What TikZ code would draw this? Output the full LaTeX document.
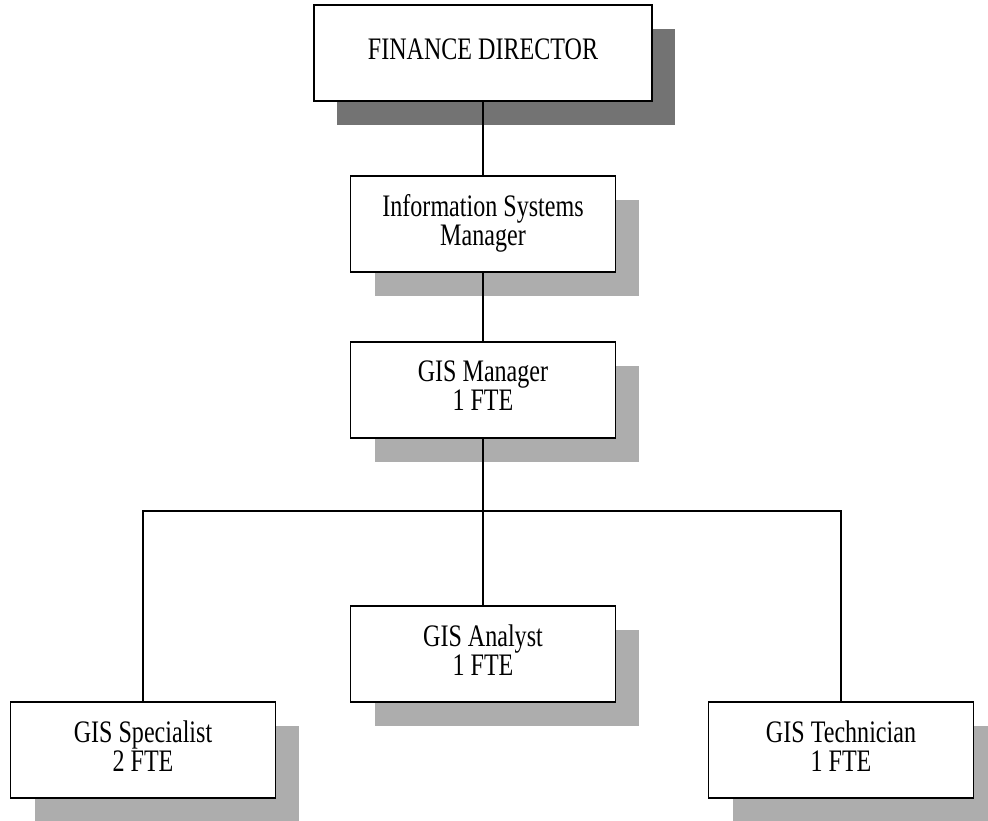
\documentclass[tikz,border=0pt]{standalone}
\usepackage{fontspec}
\setmainfont{Liberation Serif}
\usetikzlibrary{shadows}

\newcommand{\boxtext}[1]{\scalebox{1}[1.3]{\begin{tabular}{@{}c@{}}#1\end{tabular}}}

\begin{document}
\begin{tikzpicture}[x=0.02cm, y=-0.02cm,
    post/.style={draw, line width=1.1pt, fill=white, inner sep=0pt,
        minimum width=5.3cm, minimum height=1.92cm,
        font=\fontsize{13.7}{12}\selectfont},
    lightshade/.style={drop shadow={shadow xshift=0.48cm, shadow yshift=-0.48cm,
        fill=black!32, opacity=1}},
    darkshade/.style={drop shadow={shadow xshift=0.46cm, shadow yshift=-0.48cm,
        fill=black!55, opacity=1}},
    link/.style={line width=1.1pt}]
    \useasboundingbox (0,0) rectangle (988,821);

    \node[post, darkshade, minimum width=6.76cm] (fd) at (483,53) {\boxtext{FINANCE DIRECTOR}};
    \node[post, lightshade] (ism) at (483,224) {\boxtext{Information Systems\\Manager}};
    \node[post, lightshade] (mgr) at (483,390) {\boxtext{GIS Manager\\1 FTE}};
    \node[post, lightshade] (analyst) at (483,654) {\boxtext{GIS Analyst\\1 FTE}};
    \node[post, lightshade] (spec) at (143,750) {\boxtext{GIS Specialist\\2 FTE}};
    \node[post, lightshade] (tech) at (841,750) {\boxtext{GIS Technician\\1 FTE}};

    \coordinate (bus) at (483,511);

    \draw[link] (fd) -- (ism);
    \draw[link] (ism) -- (mgr);
    \draw[link] (mgr) -- (analyst);
    \draw[link] (spec) |- (bus) -| (tech);
\end{tikzpicture}
\end{document}
